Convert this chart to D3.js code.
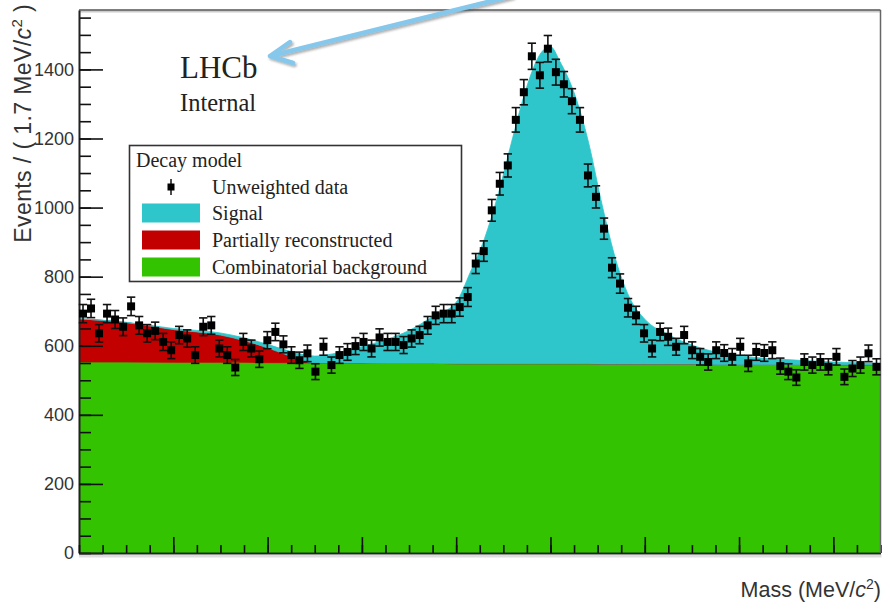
<!DOCTYPE html>
<html><head><meta charset="utf-8">
<script src="https://cdn.jsdelivr.net/npm/d3@7"></script>
<style>body{margin:0;background:#fff;} svg{display:block;}</style>
</head><body>
<svg id="c" width="883" height="602"></svg>
<script>
// ---- data ----
const binLow = 5180, binWidth = 1.7;
const massRange = [5180, 5350];
const yMax = 1572;
const counts = [693,708,636,693,676,655,714,659,636,643,
  611,587,631,621,573,655,659,592,573,537,
  611,592,561,616,640,604,573,558,578,525,
  597,544,573,582,599,611,592,624,611,611,
  602,621,631,659,688,693,693,712,741,838,
  874,992,1069,1122,1254,1334,1438,1383,1460,1392,
  1357,1308,1254,1093,1031,939,826,780,710,688,
  636,592,640,626,597,631,587,568,553,587,
  579,568,597,549,582,579,587,541,525,508,
  553,544,553,539,568,510,534,544,578,539];
const curveMass = [5180,5190,5200,5210,5215,5220,5225,5230,5235,5240,5245,5250,5255,5260,5263,5266,5269,5272,5275,5278,5280,5282,5285,5288,5291,5294,5297,5300,5305,5310,5315,5320,5330,5340,5350];
const combVals = [553,553,552,552,552,551,551,550,550,550,549,549,549,548,548,548,548,548,548,548,548,548,548,548,547,547,547,547,547,547,546,546,546,545,545];
const partRecoVals = [125,114,95,79,63,43,18,0,0,0,0,0,0,0,0,0,0,0,0,0,0,0,0,0,0,0,0,0,0,0,0,0,0,0,0];
const signalVals = [0,1,3,6,8,10,14,20,30,48,68,95,135,178,265,362,495,655,803,900,918,875,785,645,458,295,186,130,85,55,36,25,14,8,4];
const yMajorTicks = [0,200,400,600,800,1000,1200,1400];
const yMinorTicks = d3.range(0, 1572, 50);
const xMajorTicks = [5200,5220,5240,5260,5280,5300,5320,5340];
const xMinorTicks = d3.range(5180, 5351, 5);
const legendHeader = "Decay model";
const legendLabels = ["Unweighted data","Signal","Partially reconstructed","Combinatorial background"];
const colors = {sig:"#2fc6cb", part:"#c20000", comb:"#33c300"};

// ---- layout ----
const svg = d3.select("#c");
const L = 79, R = 880.5, T = 10, B = 553;
const x = d3.scaleLinear().domain(massRange).range([L, R]);
const y = d3.scaleLinear().domain([0, yMax]).range([B, T]);

const defs = svg.append("defs");
defs.append("clipPath").attr("id","plotclip").append("rect")
  .attr("x",L).attr("y",T).attr("width",R-L).attr("height",B-T);
const sh = defs.append("filter").attr("id","shadow").attr("x","-20%").attr("y","-50%").attr("width","140%").attr("height","200%");
sh.append("feDropShadow").attr("dx",1.5).attr("dy",2).attr("stdDeviation",1.2).attr("flood-color","#555").attr("flood-opacity",0.45);

// frame shadow + frame
svg.append("line").attr("x1",L).attr("x2",R+1).attr("y1",B+3).attr("y2",B+3).attr("stroke","#ddd").attr("stroke-width",3);
svg.append("line").attr("x1",L).attr("x2",R).attr("y1",T+1.5).attr("y2",T+1.5).attr("stroke","#ccc").attr("stroke-width",2);

// stacked model
const rows = curveMass.map((m,i)=>({m, comb:combVals[i], part:partRecoVals[i], sig:signalVals[i]}));
const series = d3.stack().keys(["comb","part","sig"])(rows);
const area = d3.area().x(d=>x(d.data.m)).y0(d=>y(d[0])).y1(d=>y(d[1])).curve(d3.curveMonotoneX);
const g = svg.append("g").attr("clip-path","url(#plotclip)");
g.selectAll("path.layer").data(series).join("path")
  .attr("class","layer")
  .attr("fill", d=>colors[d.key])
  .attr("stroke", d=>colors[d.key])
  .attr("stroke-width",0.8)
  .attr("d", area);

// axes (ROOT style, ticks inside)
const yAxis = d3.axisLeft(y).tickValues(yMajorTicks).tickSize(-24).tickSizeOuter(0).tickPadding(5).tickFormat(d3.format("d"));
const yMinor = d3.axisLeft(y).tickValues(yMinorTicks).tickSize(-12).tickSizeOuter(0).tickFormat("");
const xAxis = d3.axisBottom(x).tickValues(xMajorTicks).tickSize(-16).tickSizeOuter(0).tickFormat("");
const xMinor = d3.axisBottom(x).tickValues(xMinorTicks).tickSize(-8).tickSizeOuter(0).tickFormat("");
function style(sel){
  sel.selectAll("line").attr("stroke","#111").attr("stroke-width",1.6);
  sel.select(".domain").attr("stroke","#222").attr("stroke-width",1.6);
  sel.selectAll("text").attr("fill","#333").style("font-family","'Liberation Sans', Arial, sans-serif").style("font-size","18px");
}
svg.append("g").attr("transform",`translate(${L},0)`).call(yMinor).call(style);
svg.append("g").attr("transform",`translate(${L},0)`).call(yAxis).call(style);
svg.append("g").attr("transform",`translate(0,${B})`).call(xMinor).call(style);
svg.append("g").attr("transform",`translate(0,${B})`).call(xAxis).call(style);

// top and right frame
svg.append("line").attr("x1",L).attr("x2",R).attr("y1",T).attr("y2",T).attr("stroke","#555").attr("stroke-width",1.5);
svg.append("line").attr("x1",R).attr("x2",R).attr("y1",T).attr("y2",B).attr("stroke","#666").attr("stroke-width",1.5);

// data points
const pts = svg.append("g");
counts.forEach((v,i)=>{
  const m = binLow + binWidth*(i+0.5);
  const cx = x(m), e = Math.sqrt(v);
  const gp = pts.append("g");
  gp.append("line").attr("x1",cx).attr("x2",cx).attr("y1",y(v+e)).attr("y2",y(v-e)).attr("stroke","#111").attr("stroke-width",1.6);
  [v+e, v-e].forEach(c=>gp.append("line").attr("x1",cx-4.2).attr("x2",cx+4.2).attr("y1",y(c)).attr("y2",y(c)).attr("stroke","#111").attr("stroke-width",1.6));
  gp.append("rect").attr("x",cx-4).attr("y",y(v)-4).attr("width",8).attr("height",8).attr("fill","#000");
});

// legend
const lg = svg.append("g");
lg.append("rect").attr("x",129.5).attr("y",145.5).attr("width",332).attr("height",136).attr("fill","#fff").attr("stroke","#333").attr("stroke-width",1.6);
const serif = "'Liberation Serif','Times New Roman',serif";
lg.append("text").attr("x",136).attr("y",166.5).text(legendHeader).style("font-family",serif).style("font-size","20px").attr("fill","#222");
const rowY = [187, 213, 240, 267];
legendLabels.forEach((lab,i)=>{
  const cy = rowY[i];
  if(i===0){
    lg.append("line").attr("x1",171).attr("x2",171).attr("y1",cy-8).attr("y2",cy+8).attr("stroke","#111").attr("stroke-width",1.5);
    lg.append("rect").attr("x",167.5).attr("y",cy-3.5).attr("width",7).attr("height",7).attr("fill","#000");
  } else {
    const key = ["sig","part","comb"][i-1];
    lg.append("rect").attr("x",142).attr("y",cy-9.5).attr("width",58).attr("height",19).attr("fill",colors[key]);
  }
  lg.append("text").attr("x",212).attr("y",cy+6.5).text(lab).style("font-family",serif).style("font-size","20px").attr("fill","#222");
});

// LHCb labels
svg.append("text").attr("x",180).attr("y",77.5).text("LHCb").style("font-family",serif).style("font-size","31px").attr("fill","#222");
svg.append("text").attr("x",180).attr("y",111).text("Internal").style("font-family",serif).style("font-size","24.5px").attr("fill","#222");

// axis titles
const sans = "'Liberation Sans', Arial, sans-serif";
const yt = svg.append("text").attr("transform","translate(31,4) rotate(-90)").attr("text-anchor","end")
  .style("font-family",sans).style("font-size","23px").style("letter-spacing","0.4px").attr("fill","#333");
yt.append("tspan").text("Events / ( 1.7 MeV/");
yt.append("tspan").text("c").style("font-style","italic");
yt.append("tspan").text("2").attr("dy",-9).style("font-size","15px");
yt.append("tspan").text(" )").attr("dy",9);
const xt = svg.append("text").attr("x",881).attr("y",597).attr("text-anchor","end")
  .style("font-family",sans).style("font-size","21.5px").attr("fill","#333");
xt.append("tspan").text("Mass (MeV/");
xt.append("tspan").text("c").style("font-style","italic");
xt.append("tspan").text("2").attr("dy",-8).style("font-size","14px");
xt.append("tspan").text(")").attr("dy",8);

// annotation arrow
const ar = svg.append("g").attr("filter","url(#shadow)").attr("stroke","#86c7ec").attr("stroke-width",4.5).attr("stroke-linecap","round").attr("fill","none");
ar.append("path").attr("d","M512,-4 L270,56 M270,56 L290,42 M270,56 L293,63");
</script>
</body></html>
